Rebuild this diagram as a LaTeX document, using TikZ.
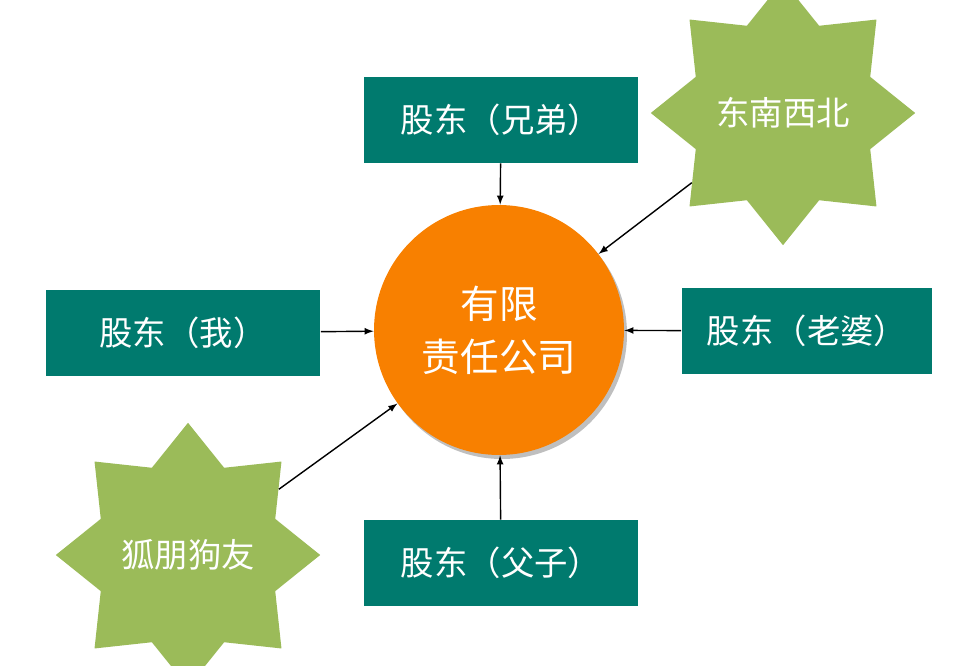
\documentclass[tikz,border=0pt]{standalone}
\usepackage{fontspec}
\setmainfont{Noto Sans CJK SC}
\usetikzlibrary{shapes.geometric}
\definecolor{tealbox}{HTML}{007A6E}
\definecolor{orangeball}{HTML}{F88000}
\definecolor{greenstar}{HTML}{9BBB59}
\tikzset{
    gudong/.style={fill=tealbox, text=white, minimum width=5.5cm, minimum height=1.72cm, font=\fontsize{19}{22}\selectfont},
    xingxing/.style={star, star points=8, star point ratio=1.4, minimum size=4.34cm, fill=greenstar, text=white, inner sep=0pt, font=\fontsize{19}{22}\selectfont},
    jiantou/.style={thick, -latex}
}
\begin{document}
\begin{tikzpicture}[x=0.02cm, y=-0.02cm]
    \useasboundingbox (0,0) rectangle (968,666);

    \fill[black!25] (502,334) circle (125);
    \node[circle, fill=orangeball, minimum size=5cm, text=white, align=center, font=\fontsize{22}{30}\selectfont] (gongsi) at (499,330) {有限\\责任公司};

    \node[gudong] (xiongdi) at (501,120) {股东（兄弟）};
    \node[gudong] (wo) at (183,333) {股东（我）};
    \node[gudong, minimum width=5.02cm] (laopo) at (807,331) {股东（老婆）};
    \node[gudong] (fuzi) at (501,563) {股东（父子）};

    \node[xingxing] (dongnan) at (783,113) {东南西北};
    \node[xingxing] (hupeng) at (188,555) {狐朋狗友};

    \draw[jiantou] (xiongdi) -- (gongsi);
    \draw[jiantou] (wo) -- (gongsi);
    \draw[jiantou] (laopo) -- (gongsi);
    \draw[jiantou] (fuzi) -- (gongsi);
    \draw[jiantou] (dongnan) -- (gongsi);
    \draw[jiantou] (hupeng) -- (gongsi);
\end{tikzpicture}
\end{document}
